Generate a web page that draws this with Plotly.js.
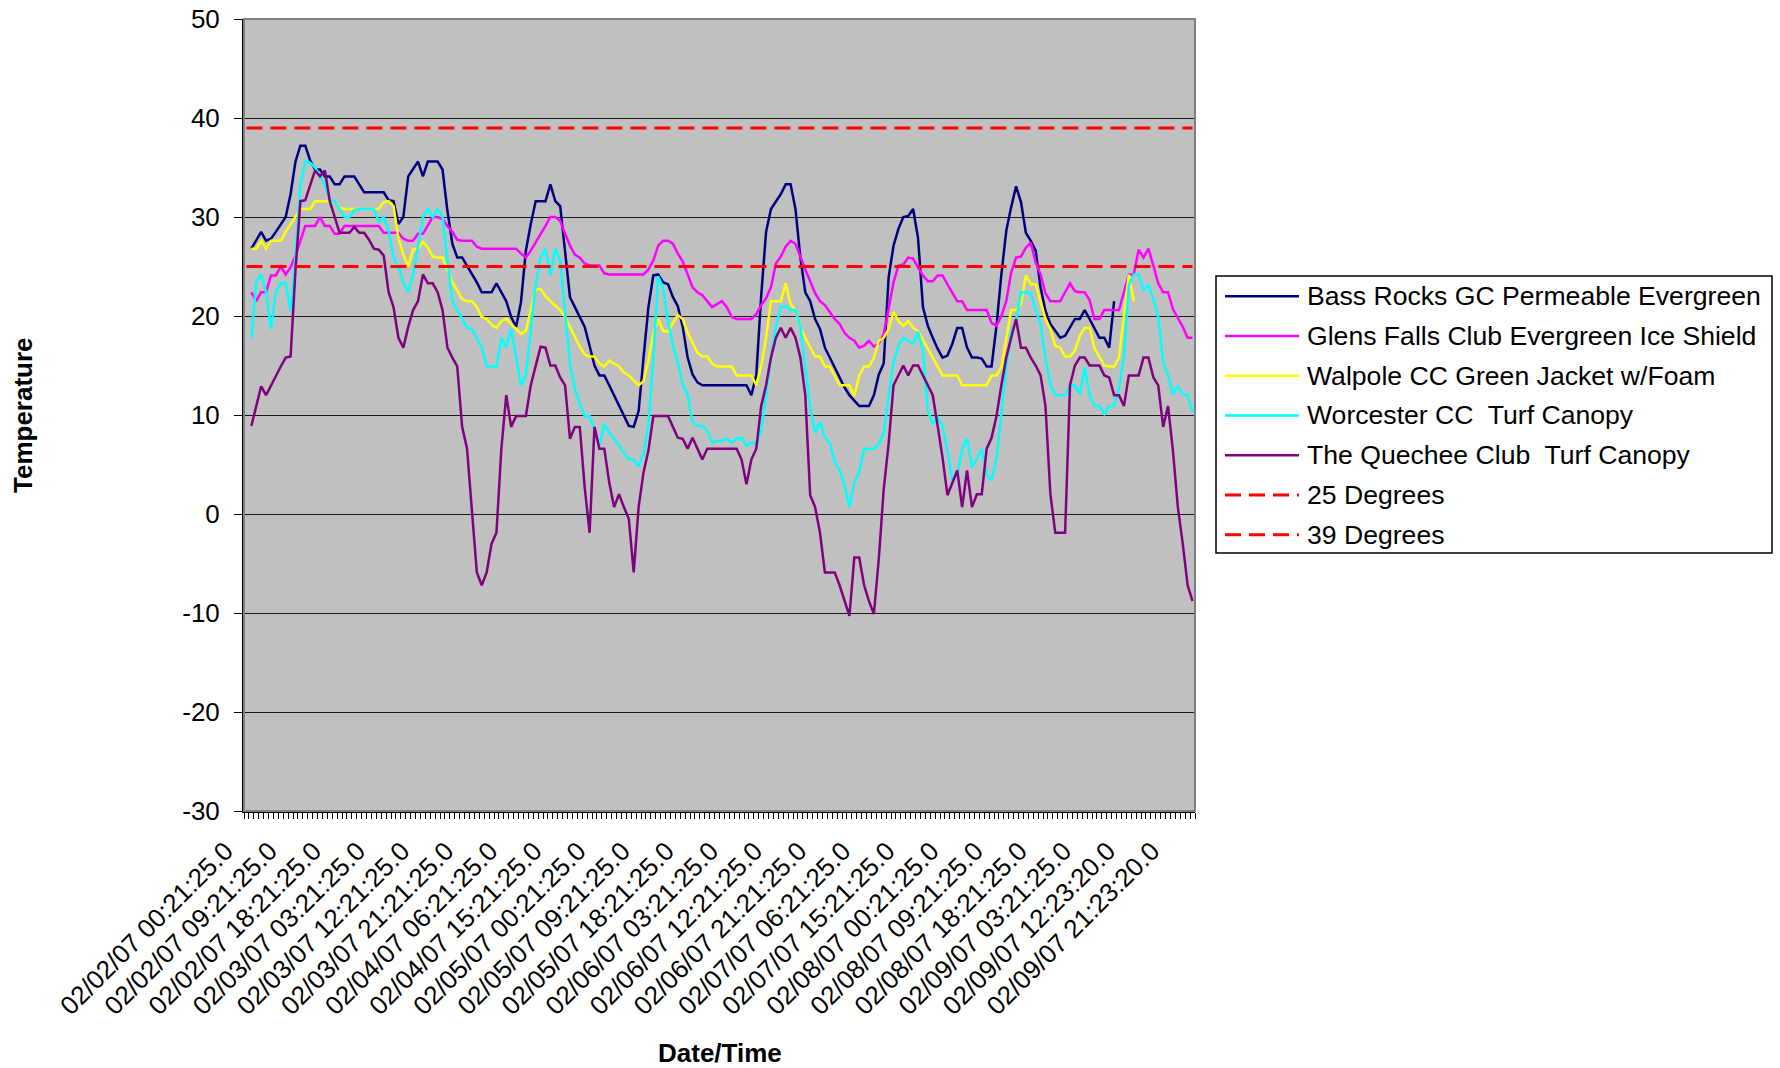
<!DOCTYPE html>
<html>
<head>
<meta charset="utf-8">
<script src="https://cdn.plot.ly/plotly-3.0.1.min.js"></script>
<style>
html,body{margin:0;padding:0;background:#ffffff;}
#chart{width:1780px;height:1068px;}
</style>
</head>
<body>
<div id="chart"></div>
<script>
// ---------- DATA ----------
const tickLabels = [
  "02/02/07 00:21:25.0","02/02/07 09:21:25.0","02/02/07 18:21:25.0",
  "02/03/07 03:21:25.0","02/03/07 12:21:25.0","02/03/07 21:21:25.0",
  "02/04/07 06:21:25.0","02/04/07 15:21:25.0","02/05/07 00:21:25.0",
  "02/05/07 09:21:25.0","02/05/07 18:21:25.0","02/06/07 03:21:25.0",
  "02/06/07 12:21:25.0","02/06/07 21:21:25.0","02/07/07 06:21:25.0",
  "02/07/07 15:21:25.0","02/08/07 00:21:25.0","02/08/07 09:21:25.0",
  "02/08/07 18:21:25.0","02/09/07 03:21:25.0","02/09/07 12:23:20.0",
  "02/09/07 21:23:20.0"
];
const labelInterval = 9;   // one label every 9 hourly categories

const yTickValues = [-30, -20, -10, 0, 10, 20, 30, 40, 50];

const seriesNames = [
  "Bass Rocks GC Permeable Evergreen",
  "Glens Falls Club Evergreen Ice Shield",
  "Walpole CC Green Jacket w/Foam",
  "Worcester CC  Turf Canopy",
  "The Quechee Club  Turf Canopy"
];
const seriesColors = ["#000080","#FF00FF","#FFFF00","#00FFFF","#800080"];

const thresholdNames  = ["25 Degrees","39 Degrees"];
const thresholdValues = [25, 39];
const thresholdColor  = "#FF0000";

const bassRocks = [null,
26.8,27.6,28.5,27.6,27.8,28.5,29.3,30.0,32.3,35.6,
37.2,37.2,35.7,34.8,34.8,34.1,34.1,33.3,33.3,34.1,
34.1,34.1,33.3,32.5,32.5,32.5,32.5,32.5,31.7,31.6,
29.3,30.0,34.1,34.8,35.6,34.1,35.6,35.6,35.6,34.8,
30.6,27.3,25.9,25.9,25.1,24.2,23.4,22.4,22.4,22.4,
23.3,22.4,21.5,19.9,18.9,21.4,26.6,29.3,31.6,31.6,
31.6,33.3,31.6,31.1,26.6,21.9,20.9,19.9,18.9,17.0,
15.0,14.0,14.0,13.0,12.0,10.9,9.9,8.9,8.8,10.4,
15.8,20.9,24.1,24.2,23.4,23.2,21.9,21.0,18.9,15.8,
14.1,13.3,13.0,13.0,13.0,13.0,13.0,13.0,13.0,13.0,
13.0,13.0,12.0,14.0,22.0,28.5,30.8,31.5,32.3,33.3,
33.3,30.8,25.9,22.4,21.5,19.7,18.7,16.8,15.8,14.8,
13.8,12.8,12.0,11.4,10.9,10.9,10.9,12.0,14.1,15.2,
23.9,27.1,28.8,30.0,30.1,30.8,27.9,20.9,19.0,17.8,
16.7,15.8,16.0,17.2,18.8,18.8,16.8,15.8,15.8,15.7,
14.9,14.9,19.0,24.2,28.6,31.0,33.1,31.5,28.4,27.6,
26.6,22.9,20.5,19.2,18.5,17.8,18.0,18.8,19.7,19.7,
20.6,19.7,18.7,17.8,17.8,16.8,21.5,
null,null,null,null,null,null,null,null,null,null,null,null,null,null,null,null];

const glensFalls = [null,
22.4,21.5,22.4,22.4,24.1,24.1,25.0,24.2,24.9,26.1,
27.6,29.1,29.1,29.1,30.0,29.1,29.1,28.3,28.3,29.1,
29.1,29.1,29.1,29.1,29.1,29.1,29.1,28.4,28.4,28.4,
28.4,27.8,27.6,27.6,28.3,28.3,29.2,30.0,30.0,29.8,
29.1,28.5,27.7,27.6,27.6,27.6,27.0,26.8,26.8,26.8,
26.8,26.8,26.8,26.8,26.8,26.3,25.9,26.6,27.4,28.3,
29.1,30.0,30.0,29.6,28.3,27.1,26.2,25.9,25.3,25.1,
25.1,25.1,24.3,24.2,24.2,24.2,24.2,24.2,24.2,24.2,
24.2,24.7,25.6,27.1,27.6,27.6,27.3,26.3,25.5,24.2,
22.9,22.4,22.1,21.5,20.9,21.2,21.5,20.9,19.9,19.7,
19.7,19.7,19.7,20.2,21.1,21.8,22.9,25.3,26.0,27.0,
27.6,27.3,25.9,24.7,23.5,22.3,21.5,21.1,20.4,19.7,
19.2,18.3,17.8,17.5,16.8,17.0,17.5,16.9,17.2,18.2,
20.7,23.4,25.1,25.2,25.9,25.8,24.9,24.1,23.5,23.5,
24.1,24.1,23.2,22.3,21.5,21.5,20.6,20.6,20.6,20.6,
20.6,19.3,19.0,20.0,21.5,24.4,25.9,26.0,26.9,27.4,
25.4,24.2,22.3,21.5,21.5,21.5,22.4,23.3,22.5,22.4,
22.4,21.6,19.7,19.7,20.6,20.6,20.6,20.6,22.4,24.2,
24.2,26.7,25.9,26.8,25.1,23.3,22.4,22.4,20.7,19.8,
18.9,17.8,17.8];

const walpole = [null,
26.8,26.8,27.6,26.8,27.6,27.6,27.6,28.5,29.3,30.0,
30.8,30.8,30.8,31.6,31.6,31.6,31.6,31.6,30.9,30.8,
30.8,30.8,30.8,30.8,30.8,30.8,30.8,31.5,31.6,31.1,
27.9,26.2,25.0,26.7,26.8,27.5,26.9,26.0,25.9,25.9,
24.6,23.4,22.6,21.7,21.5,21.5,20.9,19.9,19.7,19.1,
18.8,19.5,19.7,19.2,18.8,18.2,18.5,20.5,22.7,22.7,
22.0,21.5,21.0,20.6,19.9,18.9,17.9,16.9,16.1,15.9,
15.9,15.2,14.9,15.5,15.2,14.9,14.3,14.0,13.5,13.0,
13.4,15.5,18.2,19.7,18.5,18.4,19.3,20.1,19.7,18.3,
17.3,16.3,15.9,15.9,15.2,14.9,14.9,14.9,14.9,14.0,
14.0,14.0,14.0,13.0,14.9,17.8,21.5,21.5,21.5,23.3,
21.2,20.6,18.8,17.8,16.8,15.9,15.9,14.9,14.9,13.9,
13.0,13.0,13.0,11.9,14.0,14.9,14.9,15.8,17.5,17.8,
18.7,20.4,19.5,19.0,19.5,18.8,18.5,17.6,16.7,15.7,
14.8,14.0,14.0,14.0,14.0,13.0,13.0,13.0,13.0,13.0,
13.0,14.0,14.0,14.8,17.5,20.6,20.6,21.2,24.1,23.2,
23.2,21.4,19.7,18.7,17.0,16.8,15.9,15.9,16.5,18.0,
18.8,18.8,16.7,15.9,15.0,14.9,14.9,15.8,19.9,24.2,
21.5,
null,null,null,null,null,null,null,null,null,null,null,null];

const worcester = [null,
17.8,23.4,24.2,22.4,18.7,22.4,23.3,23.3,20.5,26.0,
33.2,35.6,35.5,35.0,34.2,33.2,31.7,31.6,30.8,30.0,
30.0,30.7,30.8,30.8,30.8,30.8,29.5,30.0,28.6,25.9,
24.9,23.4,22.4,24.2,27.0,30.0,30.8,30.0,30.8,30.0,
25.6,21.5,20.6,19.7,18.8,18.7,17.8,16.8,14.9,14.9,
14.9,17.8,16.8,18.7,15.8,13.0,14.0,18.8,23.2,25.9,
26.8,24.1,26.8,25.6,20.2,15.2,12.6,11.1,9.9,9.9,
8.4,6.9,9.1,8.2,7.6,6.9,6.1,5.5,5.5,4.8,
6.1,9.1,15.8,24.0,22.9,19.5,17.0,15.2,13.1,12.0,
9.3,8.9,8.9,8.4,7.2,7.4,7.4,7.6,7.2,7.6,
7.7,6.9,7.2,7.1,8.4,12.1,15.8,18.9,20.9,21.0,
20.6,20.6,18.9,14.8,10.8,8.2,9.3,7.7,7.2,5.3,
4.4,2.9,0.7,3.2,4.2,6.6,6.6,6.6,7.1,8.2,
11.8,15.3,17.0,17.8,17.5,17.2,18.4,16.5,10.4,9.1,
9.8,8.8,6.4,3.4,4.0,6.6,7.6,4.7,5.6,6.6,
4.0,3.4,5.6,10.3,14.8,18.4,19.5,22.4,22.4,22.3,
20.6,19.2,15.7,13.0,12.0,12.0,12.0,13.0,13.0,12.1,
14.8,12.0,10.9,10.9,10.1,10.9,10.9,12.8,15.8,23.1,
24.2,24.2,22.6,23.1,21.7,19.9,15.3,14.0,12.1,12.9,
12.1,12.0,10.3];

const quechee = [null,
8.9,10.8,12.9,12.0,13.0,13.9,14.9,15.8,15.9,24.6,
31.6,31.7,33.3,34.7,34.1,34.7,31.6,30.0,28.4,28.4,
28.4,29.0,28.4,28.4,27.7,26.8,26.7,26.1,22.4,20.9,
17.8,16.8,18.9,20.6,21.5,24.2,23.3,23.3,22.4,20.6,
16.8,15.8,14.9,8.8,6.6,0.3,-5.9,-7.2,-5.9,-3.0,
-1.9,6.6,12.0,8.8,9.9,9.9,9.9,13.0,14.9,16.9,
16.8,15.0,15.0,13.8,13.0,7.6,8.8,8.8,2.7,-1.9,
8.8,6.6,6.6,3.2,0.7,2.0,0.7,-0.5,-5.9,0.7,
4.2,6.4,9.9,9.9,9.9,9.9,8.8,7.7,7.6,6.6,
7.7,6.6,5.5,6.6,6.6,6.6,6.6,6.6,6.6,6.6,
5.5,3.0,5.5,6.6,10.9,13.0,15.8,17.8,18.8,17.8,
18.8,17.8,15.8,12.0,1.9,0.7,-1.9,-5.9,-5.9,-5.9,
-7.2,-8.8,-10.3,-4.4,-4.4,-7.2,-8.8,-10.1,-4.5,2.5,
7.1,13.0,14.0,15.0,14.0,15.0,15.0,14.0,13.0,12.0,
8.9,5.7,1.9,3.2,4.4,0.7,4.4,0.7,2.0,2.0,
6.6,7.7,9.9,13.0,15.8,17.8,19.7,16.8,16.8,15.8,
15.0,14.0,10.9,2.0,-1.9,-1.9,-1.9,13.0,15.0,15.8,
15.8,15.0,15.0,15.0,14.0,13.8,12.0,12.0,10.9,14.0,
14.0,14.0,15.8,15.8,13.8,13.0,8.8,10.9,6.4,0.7,
-3.0,-7.2,-8.8];

const seriesValues = [bassRocks, glensFalls, walpole, worcester, quechee];

// ---------- CHART ----------
const FONT = 'Arial, "Liberation Sans", Helvetica, sans-serif';
const nCat = bassRocks.length;
const xIdx = bassRocks.map((_, i) => i);

const traces = [];
seriesValues.forEach((vals, k) => {
  traces.push({
    type: 'scatter', mode: 'lines', name: seriesNames[k],
    x: xIdx, y: vals, connectgaps: false,
    line: {color: seriesColors[k], width: 2.5}
  });
});
thresholdValues.forEach((v, k) => {
  traces.push({
    type: 'scatter', mode: 'lines', name: thresholdNames[k],
    x: xIdx, y: xIdx.map(() => v),
    line: {color: thresholdColor, width: 3, dash: '16px,8px'}
  });
});

const tickVals = tickLabels.map((_, i) => i * labelInterval);

// pixel geometry of the plot area
const W = 1780, H = 1068;
const M = {l: 244, r: 585, t: 19, b: 257};
const PW = W - M.l - M.r, PH = H - M.t - M.b;
const px = X => (X - M.l) / PW;
const py = Y => (H - M.b - Y) / PH;

// legend (drawn to match the Excel legend box)
const legendBox = {x0: 1216, x1: 1772, y0: 276, y1: 553};
const legendRowTop = 296.3, legendRowStep = 39.73;
const legendLineX0 = 1225, legendLineX1 = 1299, legendTextX = 1305;
const legendNames = seriesNames.concat(thresholdNames);
const legendColors = seriesColors.concat(thresholdNames.map(() => thresholdColor));

const shapes = [
  {type: 'rect', xref: 'paper', yref: 'paper', x0: 0, x1: 1, y0: 0, y1: 1,
   line: {color: '#808080', width: 2}, layer: 'above'},
  {type: 'rect', xref: 'paper', yref: 'paper',
   x0: px(legendBox.x0), x1: px(legendBox.x1), y0: py(legendBox.y1), y1: py(legendBox.y0),
   line: {color: '#000000', width: 1.5}, fillcolor: '#ffffff', layer: 'above'}
];
const annotations = [
  {xref: 'paper', yref: 'paper', x: 0.5, y: py(1053), xanchor: 'center', yanchor: 'middle',
   text: '<b>Date/Time</b>', showarrow: false, font: {family: FONT, size: 26, color: '#000'}},
  {xref: 'paper', yref: 'paper', x: px(23), y: 0.5, xanchor: 'center', yanchor: 'middle',
   text: '<b>Temperature</b>', textangle: -90, showarrow: false, font: {family: FONT, size: 26, color: '#000'}}
];
legendNames.forEach((nm, k) => {
  const yy = py(legendRowTop + k * legendRowStep);
  const dashed = k >= seriesNames.length;
  shapes.push({type: 'line', xref: 'paper', yref: 'paper',
    x0: px(legendLineX0), x1: px(legendLineX1), y0: yy, y1: yy,
    line: {color: legendColors[k], width: dashed ? 3 : 2.5, dash: dashed ? '16px,8px' : 'solid'}, layer: 'above'});
  annotations.push({xref: 'paper', yref: 'paper', x: px(legendTextX), y: yy,
    xanchor: 'left', yanchor: 'middle', text: nm.replace(/  /g, '&nbsp; '), showarrow: false,
    font: {family: FONT, size: 26.6, color: '#000'}});
});

const layout = {
  width: W, height: H,
  margin: {l: M.l, r: M.r, t: M.t, b: M.b, pad: 0},
  paper_bgcolor: '#ffffff', plot_bgcolor: '#C0C0C0',
  showlegend: false,
  font: {family: FONT, size: 26, color: '#000'},
  xaxis: {
    range: [-0.5, nCat - 0.5], autorange: false,
    tickmode: 'array', tickvals: tickVals, ticktext: tickLabels,
    tickangle: -45, ticks: 'outside', ticklen: 5, tickcolor: 'rgba(0,0,0,0)',
    tickfont: {family: FONT, size: 26, color: '#000'},
    showgrid: false, zeroline: false,
    showline: true, linecolor: '#000', linewidth: 1.5,
    minor: {tickmode: 'linear', tick0: -0.5, dtick: 1, ticks: 'outside', ticklen: 6,
            tickcolor: '#000', tickwidth: 1, showgrid: false},
    ticklabelstandoff: 8,
    ticklabelshift: -21,
    fixedrange: true
  },
  yaxis: {
    range: [-30, 50], autorange: false,
    tickmode: 'array', tickvals: yTickValues, ticktext: yTickValues.map(v => String(v)),
    ticks: 'outside', ticklen: 8, tickcolor: '#000', tickwidth: 1,
    tickfont: {family: FONT, size: 26, color: '#000'},
    showgrid: true, gridcolor: '#1a1a1a', gridwidth: 1,
    zeroline: false, showline: true, linecolor: '#000', linewidth: 2,
    ticklabelstandoff: 9,
    fixedrange: true
  },
  shapes: shapes,
  annotations: annotations
};

Plotly.newPlot('chart', traces, layout, {displayModeBar: false, staticPlot: true});
</script>
</body>
</html>
